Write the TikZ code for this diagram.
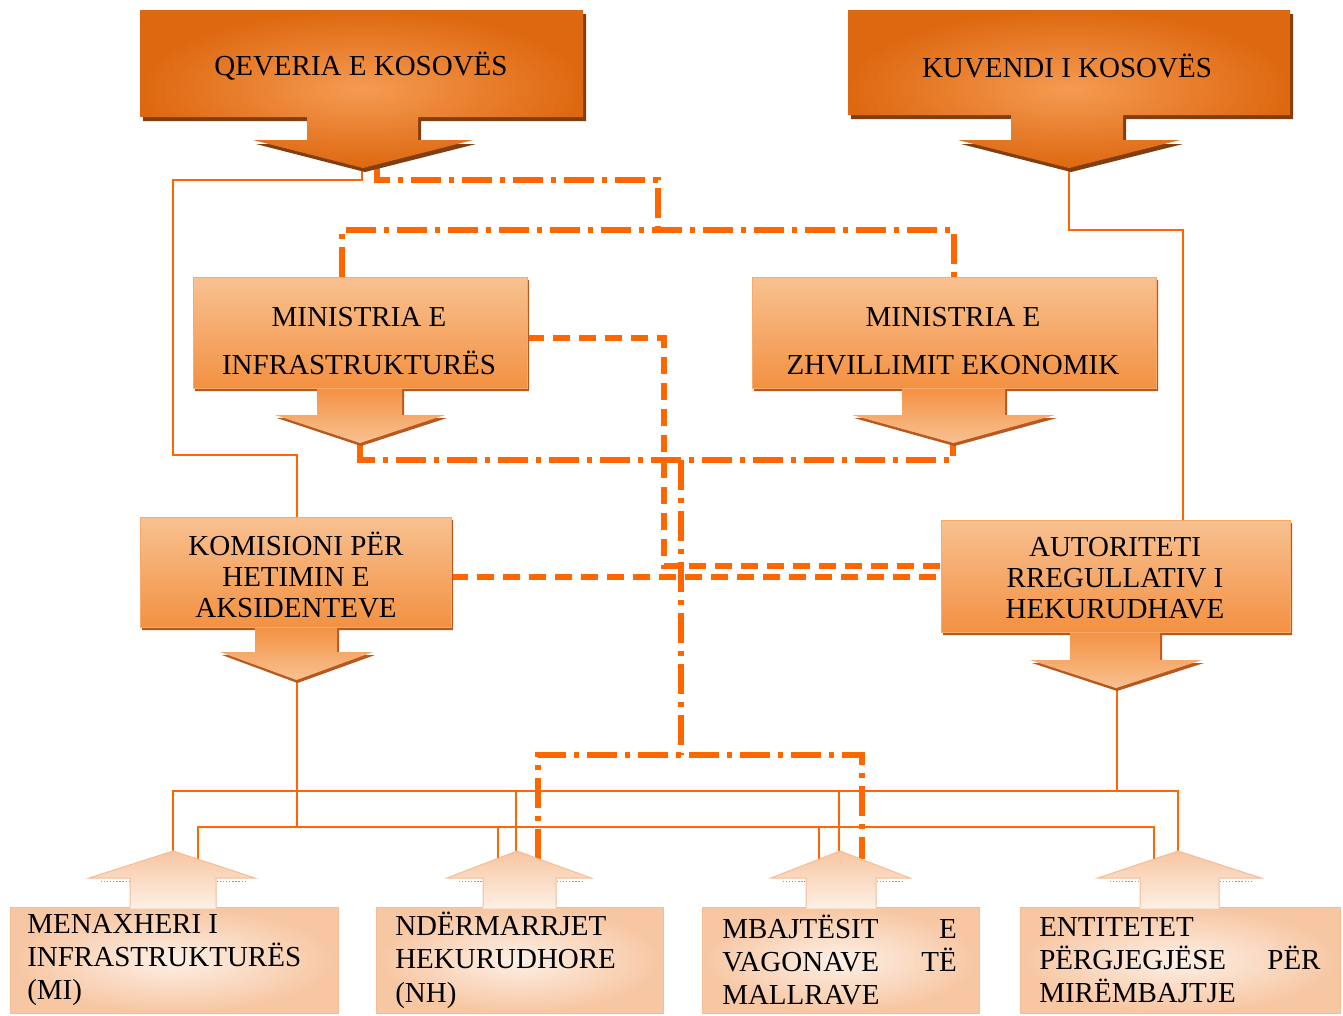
\documentclass[tikz,border=0pt]{standalone}
\usepackage{fontspec}
\setmainfont{Liberation Serif}
\definecolor{lineor}{RGB}{255,102,0}
\definecolor{topdark}{RGB}{222,104,16}
\definecolor{toplight}{RGB}{245,155,82}
\definecolor{shbrown}{RGB}{130,62,14}
\definecolor{midtop}{RGB}{248,193,145}
\definecolor{midbot}{RGB}{243,145,66}
\definecolor{midedge}{RGB}{247,170,105}
\definecolor{midshadow}{RGB}{185,88,28}
\definecolor{lowpeach}{RGB}{247,198,162}
\definecolor{lowpale}{RGB}{253,240,230}
\definecolor{lowedge}{RGB}{246,188,150}
\definecolor{dotc}{RGB}{205,140,100}

\newcommand{\mktopcallout}[9]{%
  \fill[shbrown] ({#1+3},{#2+4}) -- ({#3+3},{#2+4}) -- ({#3+3},{#4+4}) -- ({#6+3},{#4+4}) -- ({#6+3},{#9+4}) -- ({#8+3},{#9+4}) -- ({(#7+#8)/2+2},{#9+32}) -- ({#7+3},{#9+4}) -- ({#5+3},{#9+4}) -- ({#5+3},{#4+4}) -- ({#1+3},{#4+4}) -- cycle;
  \path[inner color=toplight, outer color=topdark] (#1,#2) -- (#3,#2) -- (#3,#4) -- (#6,#4) -- (#6,#9) -- (#8,#9) -- ({(#7+#8)/2},{#9+28}) -- (#7,#9) -- (#5,#9) -- (#5,#4) -- (#1,#4) -- cycle;
}
\newcommand{\mkmidcallout}[9]{%
  \fill[midshadow] ({#1+2},{#2+3}) -- ({#3+2},{#2+3}) -- ({#3+2},{#4+3}) -- ({#6+2},{#4+3}) -- ({#6+2},{#9+3}) -- ({#8+2},{#9+3}) -- ({(#7+#8)/2+1},{#9+31}) -- ({#7+2},{#9+3}) -- ({#5+2},{#9+3}) -- ({#5+2},{#4+3}) -- ({#1+2},{#4+3}) -- cycle;
  \path[top color=midbot, bottom color=midtop] (#5,{#4-1}) -- (#6,{#4-1}) -- (#6,#9) -- (#8,#9) -- ({(#7+#8)/2},{#9+28}) -- (#7,#9) -- (#5,#9) -- cycle;
  \path[top color=midtop, bottom color=midbot, draw=midedge, line width=0.75pt] (#1,#2) rectangle (#3,#4);
}
\newcommand{\mkupcallout}[7]{%
  \path[inner color=lowpale, outer color=lowpeach, draw=lowedge, line width=0.75pt] (#1,907) rectangle (#2,1013);
  \path[top color=lowpeach, bottom color=lowpale] (#3,908.5) -- (#3,878) -- (#5,878) -- (#7,851) -- (#6,878) -- (#4,878) -- (#4,908.5) -- cycle;
  \draw[lowedge, line width=0.75pt] (#3,907) -- (#3,878) -- (#5,878) -- (#7,851) -- (#6,878) -- (#4,878) -- (#4,907);
  \draw[dotc, line width=1.2pt, dash pattern=on 0.9pt off 1.4pt] ({#5+12},881.5) -- ({#3-1},881.5) ({#4+1},881.5) -- ({#6-8},881.5);
}

\begin{document}
\begin{tikzpicture}[x=0.75pt, y=-0.75pt,
  lbl/.style={font=\fontsize{21.75pt}{23.25pt}\selectfont, align=center, inner sep=0pt, text=black},
  lbltwo/.style={lbl, font=\fontsize{21.75pt}{36pt}\selectfont},
  lbllow/.style={font=\fontsize{21.75pt}{25pt}\selectfont, align=left, inner sep=0pt, anchor=west, text=black},
  thinln/.style={draw=lineor, line width=1.5pt},
  dashln/.style={draw=lineor, line width=4pt, dash pattern=on 12.75pt off 6.75pt},
  ddln/.style={draw=lineor, line width=4pt, dash pattern=on 22.5pt off 6pt on 3.75pt off 6pt}]
\useasboundingbox (0,0) rectangle (1343,1015);
\fill[white] (0,0) rectangle (1343,1015);

% named points on the shapes
\coordinate (qevtip) at (362,167);
\coordinate (qevdd) at (377,163);
\coordinate (kuvtip) at (1069,168);
\coordinate (ddtop) at (658,230);
\coordinate (mininfE) at (527,338);
\coordinate (mininfN) at (342,277);
\coordinate (mininftip) at (360,445);
\coordinate (minzhN) at (954,277);
\coordinate (minzhtip) at (953,445);
\coordinate (ddhub) at (681,460);
\coordinate (komN) at (297,517);
\coordinate (komE) at (451,577);
\coordinate (komtip) at (297,680);
\coordinate (autN) at (1183,520);
\coordinate (autW1) at (941,566);
\coordinate (autW2) at (941,577);
\coordinate (auttip) at (1117,688);
\coordinate (ddlow) at (681,755);
\coordinate (upbus) at (1117,791);
\coordinate (lowbus) at (297,827);
\coordinate (mitip) at (173,851);
\coordinate (mihead) at (198,859);
\coordinate (nhtip) at (516,851);
\coordinate (nhheadL) at (498,858);
\coordinate (nhheadR) at (538,859);
\coordinate (mbatip) at (839,851);
\coordinate (mbaheadL) at (819,859);
\coordinate (mbaheadR) at (862,859);
\coordinate (enttip) at (1178,851);
\coordinate (entheadL) at (1154,859);

% thin connectors
\draw[thinln] (qevtip) -- (362,180) -| (173,455) -| (komN);
\draw[thinln] (kuvtip) |- (1183,230) -- (autN);
\draw[thinln] (komtip) -- (lowbus);
\draw[thinln] (auttip) -- (upbus);
\draw[thinln] (mitip) |- (upbus) -| (enttip);
\draw[thinln] (mihead) |- (lowbus) -| (entheadL);
\draw[thinln] (nhtip) -- (nhtip |- upbus);
\draw[thinln] (mbatip) -- (mbatip |- upbus);
\draw[thinln] (nhheadL) -- (nhheadL |- lowbus);
\draw[thinln] (mbaheadL) -- (mbaheadL |- lowbus);

% dashed connectors
\draw[dashln] (mininfE) -| (664,566) -- (autW1);
\draw[dashln] (komE) -- (autW2);

% dash-dot connectors
\draw[ddln] (qevdd) -- (377,180) -| (ddtop);
\draw[ddln] (mininfN) |- (ddtop) -| (minzhN);
\draw[ddln] (mininftip) |- (ddhub) -| (minzhtip);
\draw[ddln] (ddhub) -- (ddlow);
\draw[ddln] (nhheadR) |- (ddlow) -| (mbaheadR);

% shapes
\mktopcallout{140}{10}{583}{117}{307}{418}{253}{473}{140}
\mktopcallout{848}{10}{1290}{115}{1011}{1123}{958}{1180}{140}
\mkmidcallout{193}{277}{527}{388}{317}{402}{275}{445}{415}
\mkmidcallout{752}{277}{1156}{388}{902}{1005}{852}{1055}{415}
\mkmidcallout{140}{517}{451}{627}{255}{337}{220}{373}{652}
\mkmidcallout{941}{520}{1290}{632}{1070}{1160}{1030}{1202}{660}
\mkupcallout{10}{338}{130}{216}{89}{255}{173}
\mkupcallout{376}{663}{483}{556}{447}{591}{517}
\mkupcallout{702}{979}{806}{876}{771}{910}{840}
\mkupcallout{1020}{1340}{1140}{1219}{1098}{1261}{1178}

% texts
\node[lbl] (qev) at (361,66) {QEVERIA E KOSOVËS};
\node[lbl] (kuv) at (1067,66) {KUVENDI I KOSOVËS};
\node[lbltwo] (mininf) at (359,341) {MINISTRIA E\\INFRASTRUKTURËS};
\node[lbltwo] (minzh) at (953,341) {MINISTRIA E\\ZHVILLIMIT EKONOMIK};
\node[lbl] (kom) at (296,575) {KOMISIONI PËR\\HETIMIN E\\AKSIDENTEVE};
\node[lbl] (aut) at (1115,578) {AUTORITETI\\RREGULLATIV I\\HEKURUDHAVE};
\node[lbllow] (mi) at (27,960) {MENAXHERI I\\INFRASTRUKTURËS\\(MI)};
\node[lbllow] (nh) at (395,960) {NDËRMARRJET\\HEKURUDHORE\\(NH)};
\node[lbllow] (mba) at (722,960) {\makebox[176pt][l]{MBAJTËSIT\hfill E}\\\makebox[176pt][l]{VAGONAVE\hfill TË}\\MALLRAVE};
\node[lbllow] (ent) at (1039,960) {ENTITETET\\\makebox[211pt][l]{PËRGJEGJËSE\hfill PËR}\\MIRËMBAJTJE};
\end{tikzpicture}
\end{document}
